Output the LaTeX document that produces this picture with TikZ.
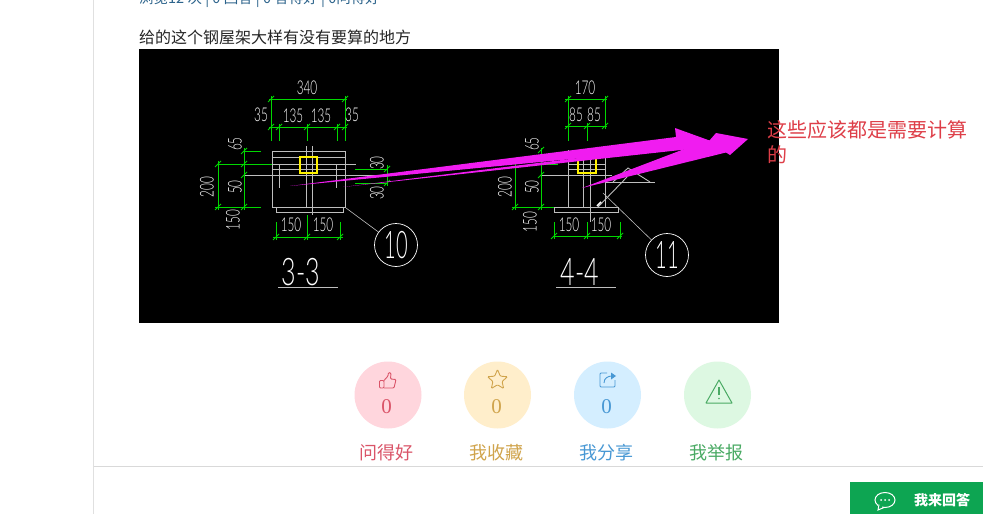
\documentclass[tikz,border=0pt]{standalone}
\usepackage{fontspec}
\setmainfont{Noto Sans CJK SC}
\newfontfamily\cadfont{Lato Light}
\newfontfamily\numfont{Liberation Serif}
\usepackage{tikz}
\usetikzlibrary{shapes,arrows,positioning}
\definecolor{cadgreen}{RGB}{0,215,0}
\definecolor{cadgray}{RGB}{190,190,190}
\definecolor{pen}{RGB}{240,28,240}
\definecolor{goodc}{RGB}{218,84,104}
\definecolor{starc}{RGB}{208,164,76}
\definecolor{sharec}{RGB}{72,152,212}
\definecolor{warnc}{RGB}{74,170,100}
\definecolor{goodbg}{RGB}{255,214,221}
\definecolor{starbg}{RGB}{255,238,203}
\definecolor{sharebg}{RGB}{212,238,255}
\definecolor{warnbg}{RGB}{221,248,226}
\definecolor{btngreen}{RGB}{13,165,82}
\definecolor{statsc}{RGB}{45,100,140}
\definecolor{notec}{RGB}{222,62,72}
\tikzset{
  cadline/.style={cadgray, line width=0.9pt},
  dimline/.style={cadgreen, line width=1pt},
  cadtext/.style={white, inner sep=0pt, font=\cadfont\fontsize{19}{19}\selectfont, xscale=0.62, transform shape},
  cadvert/.style={white, inner sep=0pt, font=\cadfont\fontsize{19}{19}\selectfont, rotate=90, xscale=0.62, transform shape},
  cadtitle/.style={white, inner sep=0pt, font=\cadfont\fontsize{38}{38}\selectfont, xscale=0.66, transform shape},
  cadmark/.style={circle, draw=white, line width=0.7pt, minimum size=43pt, inner sep=0pt},
  badge/.style={circle, minimum size=67pt, inner sep=0pt},
  badgelabel/.style={inner sep=0pt, font=\fontsize{18}{18}\selectfont},
  badgenum/.style={inner sep=0pt, font=\numfont\fontsize{21}{21}\selectfont},
}
\begin{document}
\begin{tikzpicture}[x=1pt, y=-1pt]
\useasboundingbox (0,0) rectangle (983,514);
\clip (0,0) rectangle (983,514);
\fill[white] (0,0) rectangle (983,514);

% page frame
\draw[black!12, line width=0.8pt] (93.5,0) -- (93.5,514);
\draw[black!15, line width=0.8pt] (93.5,466) -- (983,466);

% header text
\node[anchor=west, inner sep=0pt, font=\fontsize{14.5}{14.5}\selectfont, text=statsc] (stats) at (139,-1) {浏览12 次 | 0 回答 | 0 答得好 | 0问得好};
\node[anchor=west, inner sep=0pt, font=\fontsize{16}{16}\selectfont, text=black!85] (question) at (139,37.5) {给的这个钢屋架大样有没有要算的地方};

% drawing background
\fill[black] (139,49) rectangle (779,323);

% section 3-3 body
\draw[cadline] (272,151) rectangle (345,207);
\draw[cadline] (272,157) -- (345,157);
\draw[cadline] (276,207) rectangle (343,212);
\draw[cadline] (306,146) -- (306,207);
\draw[cadline] (312,146) -- (312,215);
\draw[cadline] (218,164) -- (356,164);
\draw[cadline] (272,169) -- (345,169);
\draw[cadline] (244,175) -- (387,175);
\draw[cadline] (279,165) -- (279,188);
\draw[cadline] (336,165) -- (336,188);
\draw[yellow, line width=1.4pt] (300,157) rectangle (317,173);

% section 3-3 dimensions
\draw[dimline] (269,99) -- (347,99);
\draw[dimline] (269,127) -- (347,127);
\draw[dimline] (271,96) -- (271,141);
\draw[dimline] (345,96) -- (345,141);
\draw[dimline] (279,124) -- (279,141);
\draw[dimline] (307,124) -- (307,141);
\draw[dimline] (337,124) -- (337,141);
\draw[dimline] (218,161) -- (218,210);
\draw[dimline] (244,148) -- (244,210);
\draw[dimline] (218,164) -- (272,164);
\draw[dimline] (244,151) -- (261,151);
\draw[dimline] (215,207) -- (261,207);
\draw[dimline] (355,169) -- (388,169);
\draw[dimline] (355,183) -- (388,183);
\draw[dimline] (387,165) -- (387,186);
\draw[dimline] (273,237) -- (343,237);
\draw[dimline] (276,222) -- (276,240);
\draw[dimline] (307,215) -- (307,240);
\draw[dimline] (340,222) -- (340,240);
\foreach \x/\y in {271/99,345/99,271/127,279/127,307/127,337/127,345/127,218/164,244/151,244/164,244/175,218/207,244/207,387/169,387/183,276/237,307/237,340/237}
  \draw[dimline] (\x-3,\y+3) -- (\x+3,\y-3);
\node[cadtext] (top33) at (307,88) {340};
\node[cadtext] (ltop33) at (261,115) {35};
\node[cadtext] (midl33) at (293,116) {135};
\node[cadtext] (midr33) at (321,116) {135};
\node[cadtext] (rtop33) at (352,115) {35};
\node[cadvert] (la33) at (235,144) {65};
\node[cadvert] (lb33) at (207,187) {200};
\node[cadvert] (lc33) at (235,187) {50};
\node[cadvert] (ld33) at (233,220) {150};
\node[cadvert] (ra33) at (377,163) {30};
\node[cadvert] (rb33) at (377,193) {30};
\node[cadtext] (bl33) at (291,225) {150};
\node[cadtext] (br33) at (323,225) {150};
\node[cadmark] (mark10) at (396,245) {};
\node[cadtitle, xscale=0.8] (num10) at (396,245) {10};
\coordinate (corner33) at (346,208);
\draw[cadline, line width=0.6pt] (corner33) -- (mark10);
\node[cadtitle] (title33) at (301,272) {3-3};
\draw[cadline] (278,287) -- (338,287);

% section 4-4 body
\draw[cadline] (568,150) -- (568,207);
\draw[cadline] (605,150) -- (605,207);
\draw[cadline] (554,207) rectangle (618,212);
\draw[cadline] (583,150) -- (583,207);
\draw[cadline] (590,150) -- (590,222);
\draw[cadline] (568,164) -- (605,164);
\draw[cadline] (568,169) -- (605,169);
\draw[cadline] (541,175) -- (612,175);
\draw[yellow, line width=1.4pt] (578,155) -- (578,173) -- (596,173) -- (596,155);
\draw[cadline] (598,207) -- (627,177);
\draw[cadline] (613,182) -- (628,168) -- (650,182);
\draw[cadline] (605,182) -- (655,182);
\draw[white, line width=1.5pt] (597,206) -- (601,202);

% section 4-4 dimensions
\draw[dimline] (565,99) -- (607,99);
\draw[dimline] (565,126) -- (607,126);
\draw[dimline] (568,96) -- (568,141);
\draw[dimline] (605,96) -- (605,129);
\draw[dimline] (587,123) -- (587,141);
\draw[dimline] (515,161) -- (515,210);
\draw[dimline] (541,148) -- (541,210);
\draw[dimline] (541,164) -- (558,164);
\draw[dimline] (512,207) -- (554,207);
\draw[dimline] (553,236) -- (622,236);
\draw[dimline] (554,222) -- (554,239);
\draw[dimline] (587,222) -- (587,239);
\draw[dimline] (620,222) -- (620,239);
\foreach \x/\y in {568/99,605/99,568/126,587/126,605/126,541/150,541/175,515/207,541/207,554/236,587/236,620/236}
  \draw[dimline] (\x-3,\y+3) -- (\x+3,\y-3);
\node[cadtext] (top44) at (585,88) {170};
\node[cadtext] (midl44) at (576,115) {85};
\node[cadtext] (midr44) at (594,115) {85};
\node[cadvert] (la44) at (532,144) {65};
\node[cadvert] (lb44) at (505,187) {200};
\node[cadvert] (lc44) at (532,187) {50};
\node[cadvert] (ld44) at (530,222) {150};
\node[cadtext] (bl44) at (569,225) {150};
\node[cadtext] (br44) at (601,225) {150};
\node[cadmark] (mark11) at (667,255) {};
\node[cadtitle, xscale=0.8] (num11) at (667,255) {11};
\coordinate (corner44) at (603,193);
\draw[cadline, line width=0.6pt] (corner44) -- (mark11);
\node[cadtitle] (title44) at (580,272) {4-4};
\draw[cadline] (556,287) -- (616,287);

% hand drawn arrows
\fill[pen] (290,186) -- (676,137) -- (675,128) -- (722,145) -- (687,148) -- cycle;
\fill[pen] (343,187) -- (700,143) -- (709,141) -- (716,133) -- (748,139) -- (730,155) -- (722,150) -- (690,149) -- cycle;
\fill[pen] (582,188) -- (687,148) -- (720,140) -- (728,152) -- cycle;

% note
\node[anchor=west, inner sep=0pt, font=\fontsize{20}{20}\selectfont, text=notec] (notea) at (767,130) {这些应该都是需要计算};
\node[anchor=west, inner sep=0pt, font=\fontsize{20}{20}\selectfont, text=notec] (noteb) at (767,155) {的};

% badges
\node[badge, fill=goodbg] (good) at (388,395) {};
\node[badge, fill=starbg] (fav) at (497.5,395) {};
\node[badge, fill=sharebg] (share) at (607.5,395) {};
\node[badge, fill=warnbg] (warn) at (717.5,395) {};
\node[badgenum, text=goodc] (goodnum) at (386.5,406.5) {0};
\node[badgenum, text=starc] (favnum) at (496.5,407) {0};
\node[badgenum, text=sharec] (sharenum) at (606.5,407) {0};
\node[badgelabel, text=goodc] (goodlabel) at (386,453) {问得好};
\node[badgelabel, text=starc] (favlabel) at (496,453) {我收藏};
\node[badgelabel, text=sharec] (sharelabel) at (606,453) {我分享};
\node[badgelabel, text=warnc] (warnlabel) at (716,453) {我举报};

% thumb icon
\draw[goodc, line width=0.9pt, rounded corners=1pt] (379.5,380.5) rectangle (384,388);
\draw[goodc, line width=0.9pt, rounded corners=1pt] (384,380.5) -- (388,376) -- (388.5,372.5) -- (391,373) -- (390.5,379) -- (396,379.5) -- (394,388) -- (384,388);

% star icon
\node[star, star points=5, star point ratio=2.2, draw=starc, line width=0.9pt, minimum size=21pt, inner sep=0pt, rounded corners=1pt] (staricon) at (497.5,380) {};

% share icon
\draw[sharec, line width=0.9pt, rounded corners=1pt] (607,373) -- (600,373) -- (600,387) -- (615,387) -- (615,380);
\draw[sharec, line width=0.9pt] (604,383) .. controls (604,378) and (608,376) .. (612,376);
\fill[sharec] (611,372.5) -- (616,376) -- (611,379.5) -- cycle;

% warning icon
\draw[warnc, line width=1pt, line join=round] (719,380) -- (732,403) -- (706,403) -- cycle;
\draw[warnc, line width=1.1pt] (719,387) -- (719,395);
\fill[warnc] (719,398.5) circle (0.8);

% answer button
\fill[btngreen] (850,482) rectangle (983,514);
\draw[white, line width=1pt] (885,500) ellipse (10 and 7.5);
\fill[btngreen] (878,504) rectangle (882,510);
\draw[white, line width=1pt] (879,504.5) -- (878,510) -- (884,507.5);
\foreach \x in {881,885,889}
  \fill[white] (\x,500) circle (1);
\node[anchor=west, inner sep=0pt, text=white, font=\bfseries\fontsize{14}{14}\selectfont] (answer) at (914,500.5) {我来回答};
\end{tikzpicture}
\end{document}
